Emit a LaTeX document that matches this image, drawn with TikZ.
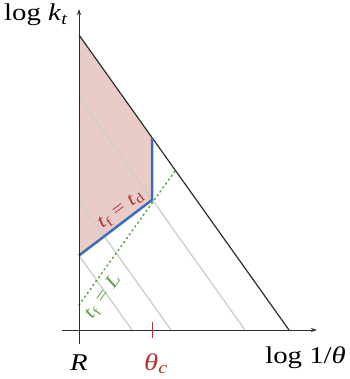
\documentclass[tikz,border=0pt]{standalone}
\usepackage{fontspec}
\setmainfont[FakeStretch=1.2]{Liberation Serif}
\usetikzlibrary{arrows.meta}
\definecolor{pinkfill}{RGB}{233,204,200}
\definecolor{blueline}{RGB}{62,108,188}
\definecolor{redlab}{RGB}{178,52,48}
\definecolor{greenlab}{RGB}{95,160,75}
\definecolor{axisgray}{RGB}{45,45,45}
\definecolor{lightgray2}{RGB}{205,205,205}
\begin{document}
\begin{tikzpicture}[x=1pt,y=-1pt,
  axisline/.style={draw=axisgray,line width=1pt,-{Stealth[length=6pt,width=4pt]}},
  guide/.style={draw=lightgray2,line width=1.3pt},
  bigtext/.style={inner sep=0pt,font=\fontsize{24}{28}\selectfont},
  smalltext/.style={inner sep=0pt,font=\fontsize{19}{22}\selectfont}]
\useasboundingbox (0,0) rectangle (349,379);
% key points
\coordinate (yb) at (79,344);
\coordinate (yt) at (79,9);
\coordinate (xl) at (62,330);
\coordinate (xr) at (317,330);
\coordinate (p1) at (79,35);
\coordinate (p2) at (152,137.5);
\coordinate (p3) at (152,200);
\coordinate (p4) at (79,255.5);
\coordinate (q) at (289,330);
% pink region
\fill[pinkfill] (p1) -- (p2) -- (p3) -- (p4) -- cycle;
% guide lines
\coordinate (a1) at (79,97);   \coordinate (a2) at (245,330);
\coordinate (b1) at (79,201);  \coordinate (b2) at (171,330);
\coordinate (c1) at (79,255.5);\coordinate (c2) at (132,330);
\draw[guide] (a1) -- (a2);
\draw[guide] (b1) -- (b2);
\draw[guide] (c1) -- (c2);
% green dotted
\coordinate (g1) at (79,305);
\coordinate (g2) at (175,171);
\draw[greenlab,line width=1.6pt,line cap=round,dash pattern=on 1.2pt off 3.6pt] (g1) -- (g2);
% black diagonal
\draw[axisgray,line width=1.2pt] (p1) -- (q);
% blue boundary
\draw[blueline,line width=2.5pt,line join=round] (p2) -- (p3) -- (p4);
% axes
\draw[axisline] (yb) -- (yt);
\draw[axisline] (xl) -- (xr);
% tick
\coordinate (t1) at (152,322);
\coordinate (t2) at (152,338);
\draw[redlab,line width=1pt] (t1) -- (t2);
% labels
\node[bigtext,anchor=base west] (ly) at (4,21) {log \textit{k}\textsubscript{\textit{t}}};
\node[bigtext,anchor=base east] (lx) at (346,363) {log 1/\textit{θ}};
\node[bigtext,anchor=base] (lr) at (79,370) {\textit{R}};
\node[bigtext,anchor=base west,text=redlab] (lc) at (144,370) {\textit{θ}\textsubscript{\textit{c}}};
\node[smalltext,text=redlab,rotate=37] (ltd) at (121,210) {\textit{t}\textsubscript{f} = \textit{t}\textsubscript{d}};
\node[smalltext,text=greenlab,rotate=54] (ltl) at (103,297) {\textit{t}\textsubscript{f} = \textit{L}};
\end{tikzpicture}
\end{document}
